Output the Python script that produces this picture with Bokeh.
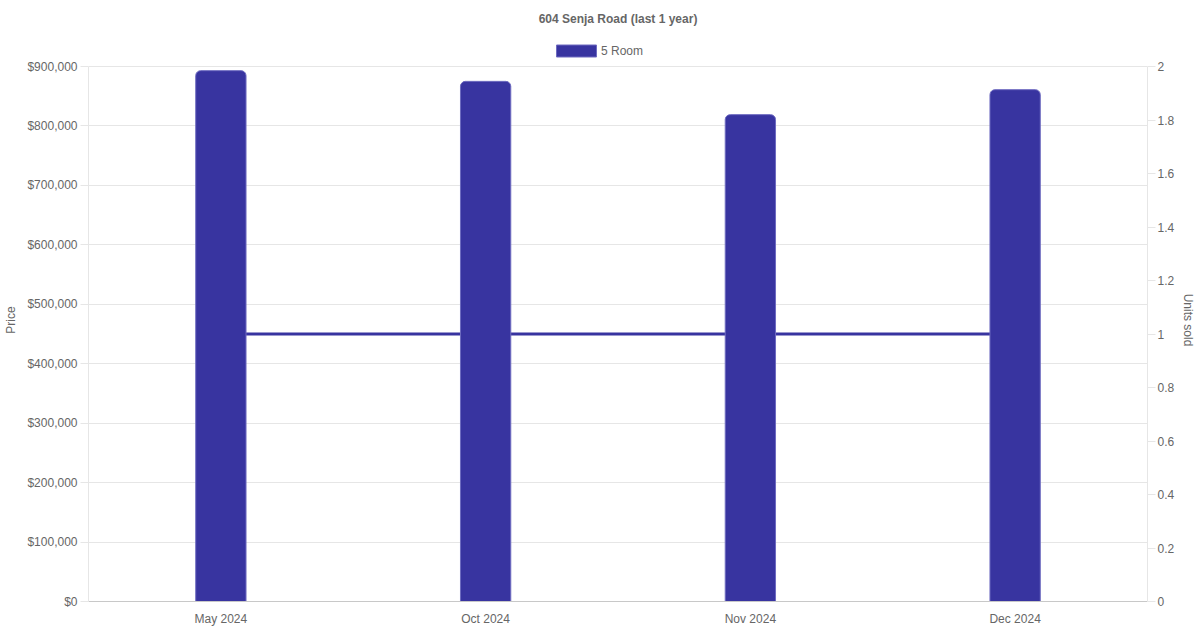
from bokeh.plotting import figure
from bokeh.models import (ColumnDataSource, LinearAxis, Range1d, FixedTicker,
                          NumeralTickFormatter, CustomJSTickFormatter, Legend, LegendItem)
from bokeh.embed import file_html
from bokeh.resources import INLINE

months = ["May 2024", "Oct 2024", "Nov 2024", "Dec 2024"]
prices = [893000, 875000, 819000, 861000]
units_sold = [1, 1, 1, 1]
price_ticks = [0, 100000, 200000, 300000, 400000, 500000, 600000, 700000, 800000, 900000]
unit_ticks = [0, 0.2, 0.4, 0.6, 0.8, 1, 1.2, 1.4, 1.6, 1.8, 2]

FONT = "Liberation Sans"
TEXT = "#666666"
GRID = "#e6e6e6"
BAR = "#3834a0"

# plot area: axes cover 535px, plus a strip on top that holds the legend
AXIS_H = 535
LEGEND_STRIP = 28
stretch = (AXIS_H + LEGEND_STRIP) / AXIS_H

src = ColumnDataSource(dict(month=months, price=prices, units=units_sold))

p = figure(x_range=months, y_range=Range1d(0, price_ticks[-1] * stretch),
           frame_width=1059, frame_height=AXIS_H + LEGEND_STRIP,
           output_backend="svg", toolbar_location=None,
           min_border_left=88, min_border_right=53, min_border_top=0, min_border_bottom=29)
p.outline_line_color = None
p.extra_y_ranges = {"units": Range1d(0, unit_ticks[-1] * stretch)}

p.title.text = "604 Senja Road (last 1 year)"
p.title.align = "center"
p.title.vertical_align = "top"
p.title.text_font = FONT
p.title.text_font_size = "12px"
p.title.text_font_style = "bold"
p.title.text_color = TEXT
p.title.standoff = 22

# line sits behind the bars
p.line(x="month", y="units", source=src, y_range_name="units", line_color=BAR, line_width=3)
bars = p.vbar(x="month", top="price", source=src, width=0.19, fill_color=BAR,
              line_color="#6e6bc0", line_width=1, border_radius=(5, 5, 0, 0))

p.xgrid.grid_line_color = None
p.ygrid.grid_line_color = GRID
p.ygrid.ticker = FixedTicker(ticks=price_ticks)

ya = p.yaxis[0]
ya.ticker = FixedTicker(ticks=price_ticks)
ya.formatter = NumeralTickFormatter(format="$0,0")
ya.axis_label = "Price"
ya.axis_label_standoff = 6
ya.bounds = (0, price_ticks[-1])

ra = LinearAxis(y_range_name="units", ticker=FixedTicker(ticks=unit_ticks),
                formatter=CustomJSTickFormatter(code="return String(Math.round(tick * 10) / 10);"),
                axis_label="Units sold", axis_label_standoff=4, bounds=(0, unit_ticks[-1]))
p.add_layout(ra, "right")

for ax in (ya, ra):
    ax.major_tick_out = 8
    ax.major_tick_in = 0
    ax.minor_tick_line_color = None
    ax.major_tick_line_color = GRID
    ax.axis_line_color = GRID
ya.major_label_standoff = 3
ra.major_label_standoff = 2

xa = p.xaxis[0]
xa.major_tick_out = 0
xa.major_tick_in = 0
xa.axis_line_color = "#c8c8c8"
xa.major_label_standoff = 10

for ax in (xa, ya, ra):
    ax.major_label_text_font = FONT
    ax.major_label_text_font_size = "12px"
    ax.major_label_text_color = TEXT
    ax.axis_label_text_font = FONT
    ax.axis_label_text_font_size = "12px"
    ax.axis_label_text_font_style = "normal"
    ax.axis_label_text_color = TEXT

legend = Legend(items=[LegendItem(label="5 Room", renderers=[bars])],
                orientation="horizontal", location=(463, AXIS_H + LEGEND_STRIP - 20),
                glyph_width=50, glyph_height=15, label_height=15,
                label_text_font=FONT, label_text_font_size="12px", label_text_color=TEXT,
                border_line_color=None, background_fill_alpha=0,
                padding=0, margin=0, label_standoff=0)
p.add_layout(legend)

open("out.html", "w").write(file_html(p, INLINE))
